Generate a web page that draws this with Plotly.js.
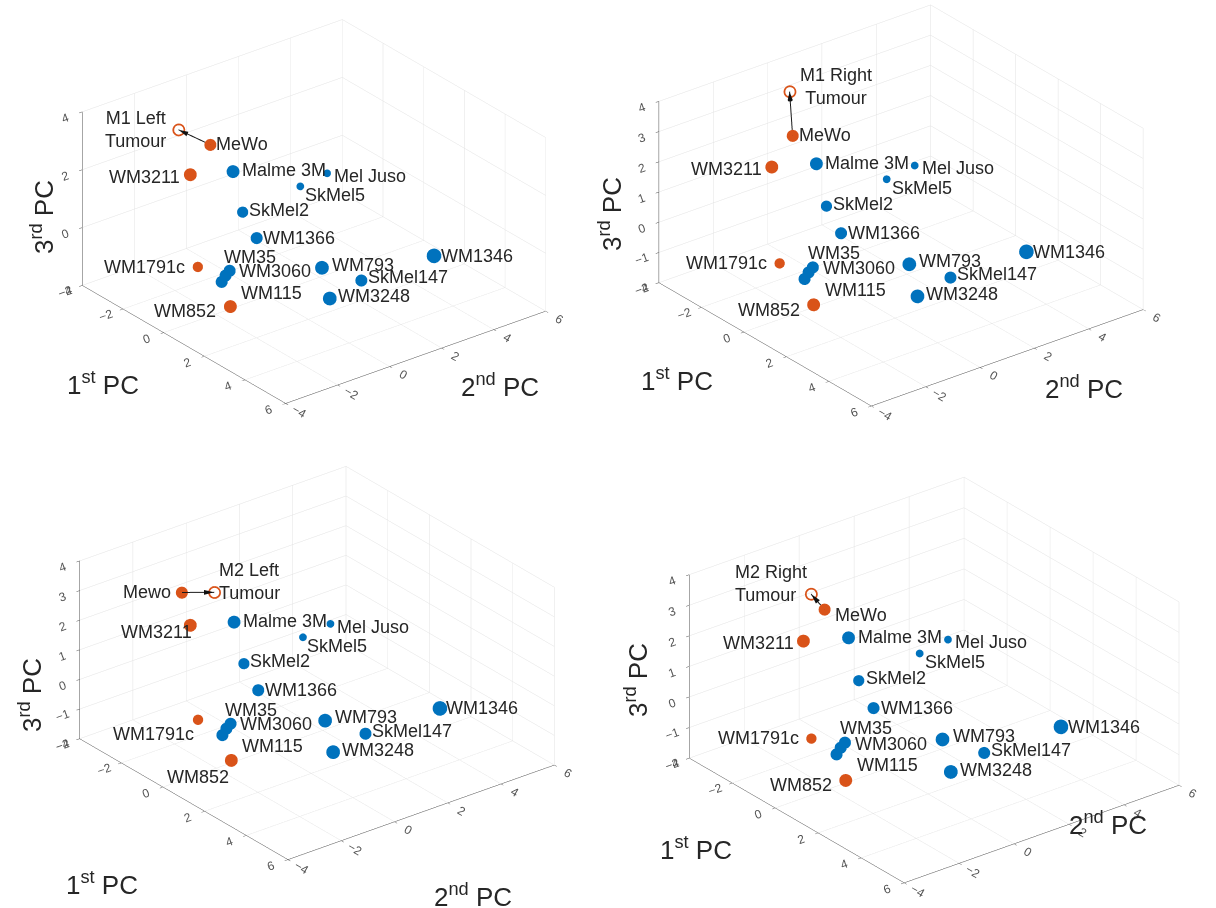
<!DOCTYPE html>
<html>
<head>
<meta charset="utf-8">
<script src="https://cdn.plot.ly/plotly-3.0.1.min.js"></script>
<style>
  html, body { margin: 0; padding: 0; background: #ffffff; }
  #chart { width: 1216px; height: 908px; }
</style>
</head>
<body>
<div id="chart"></div>
<script>
// Melanoma cell lines projected on the first three principal components
const cellLines = ['WM3211', 'Malme 3M', 'Mel Juso', 'SkMel5', 'SkMel2', 'WM1366', 'WM1346',
                   'WM1791c', 'WM35', 'WM3060', 'WM115', 'WM793', 'SkMel147', 'WM3248', 'WM852'];
const pc1 = [-1.75, -0.98, 0.81, 0.45, -0.34, 0.22, 3.76, -0.56, 0.08, 0.06, 0.06, 1.78, 2.67, 2.28, 0.50];
const pc2 = [-1.61, -0.57, 1.65, 0.90, -0.70, -0.60, 3.45, -2.25, -1.53, -1.67, -1.82, 0.69, 1.51, 0.60, -1.83];
const pc3 = [1.99, 2.08, 2.04, 1.68, 0.98, 0.28, -0.18, -0.51, -0.61, -0.74, -0.91, -0.52, -0.86, -1.35, -1.58];
const pointSize = [15, 15, 9, 9, 13, 14, 17, 12, 14, 14, 14, 16, 14, 16, 15];
const cellGroup = ['A', 'B', 'B', 'B', 'B', 'B', 'B', 'A', 'B', 'B', 'B', 'B', 'B', 'B', 'A'];

// MeWo reference line, one entry per panel
const mewoLabel = ['MeWo', 'MeWo', 'Mewo', 'MeWo'];
const mewoPC1 = [-1.71, -1.71, -2.27, -1.71];
const mewoPC2 = [-0.87, -0.87, -1.52, -0.87];
const mewoPC3 = [2.80, 2.80, 2.85, 2.80];
const mewoSize = 14;

// Tumour samples, one per panel
const tumourNames = ['M1 Left<br>Tumour', 'M1 Right<br>Tumour', 'M2 Left<br>Tumour', 'M2 Right<br>Tumour'];
const tumourPC1 = [-2.48, -2.81, -1.67, -2.12];
const tumourPC2 = [-1.49, -0.12, -0.77, -1.04];
const tumourPC3 = [3.20, 3.57, 2.86, 3.19];
const tumourSize = 14;

// Axis ticks
const pcRange = [-4, 6];
const pc3Range = [-2, 4];
const pc3Step = [2, 1, 1, 1];

const groupColor = { A: '#D95319', B: '#0072BD' };
const labelFont = { family: 'Liberation Sans, Arial, sans-serif', size: 18, color: '#262626' };
const titleFont = { family: 'Liberation Sans, Arial, sans-serif', size: 26, color: '#262626' };

// Label placement: [xanchor, xshift, yshift]
const basePlacement = {
  'MeWo': ['left', 4, 1], 'WM3211': ['right', -8, -2], 'Malme 3M': ['left', 7, 1],
  'Mel Juso': ['left', 5, -3], 'SkMel5': ['left', 3, -9], 'SkMel2': ['left', 5, 2],
  'WM1366': ['left', 5, 0], 'WM1346': ['left', 5, 0], 'WM1791c': ['right', -11, 0],
  'WM35': ['left', -7, 14], 'WM3060': ['left', 12, 4], 'WM115': ['left', 18, -11],
  'WM793': ['left', 8, 3], 'SkMel147': ['left', 5, 3], 'WM3248': ['left', 7, 2],
  'WM852': ['right', -12, -5]
};
const panelPlacement = [
  {},
  {},
  { 'Mewo': ['right', -8, 0], 'WM3211': ['right', 4, -7], 'WM1791c': ['right', -2, -14], 'WM852': ['right', 0, -17] },
  { 'MeWo': ['left', 8, -6] }
];
// [xanchor, xshift, yshift, align]
const tumourPlacement = [
  ['right', -10, 0, 'center'],
  ['left', 8, 5, 'center'],
  ['left', 3, 11, 'left'],
  ['right', -2, 11, 'left']
];

// Scene frames, box scale and look-at offsets
const domains = [
  { x: [0.0231, 0.4931], y: [0.5341, 1.0] },
  { x: [0.506, 0.976], y: [0.5341, 1.0] },
  { x: [0.0253, 0.4953], y: [0.033, 0.5066] },
  { x: [0.53, 1.0], y: [0.0088, 0.4934] }
];
const boxScale = [1.561, 1.631, 1.573, 1.586];
const lookAt = [
  { x: 0, y: 0, z: 0 },
  { x: 0, y: 0, z: -0.032 },
  { x: 0, y: 0, z: 0 },
  { x: -0.0116, y: -0.0148, z: 0 }
];
const zRatio = 0.59;
const eyeDir = [0.702, -0.549, 0.454];

// Axis titles, one set per panel
const titlePos = [
  { pc1: [103, 383], pc2: [500, 385], pc3: [42, 217] },
  { pc1: [677, 380], pc2: [1084, 387], pc3: [611, 214] },
  { pc1: [102, 883], pc2: [473, 895], pc3: [30, 695] },
  { pc1: [696, 848], pc2: [1108, 823], pc3: [636, 680] }
];

const W = 1216, H = 908;
const traces = [];
const layout = {
  width: W, height: H,
  margin: { l: 0, r: 0, t: 0, b: 0 },
  paper_bgcolor: '#ffffff',
  showlegend: false,
  hovermode: false,
  annotations: []
};

function axisSpec(range, step) {
  return {
    range: range, autorange: false, tick0: range[0], dtick: step, tickmode: 'linear',
    showgrid: true, gridcolor: '#e2e2e2', gridwidth: 1,
    showline: true, linecolor: '#4d4d4d', linewidth: 1,
    ticks: 'outside', ticklen: 4, tickcolor: '#4d4d4d',
    tickfont: { family: 'Liberation Sans, Arial, sans-serif', size: 12, color: '#555555' },
    zeroline: false, showbackground: false, showspikes: false,
    title: { text: '' }
  };
}

for (let p = 0; p < 4; p++) {
  const sid = p === 0 ? 'scene' : 'scene' + (p + 1);

  // arrow from MeWo to the tumour
  traces.push({
    type: 'scatter3d', mode: 'lines', scene: sid,
    x: [mewoPC1[p], tumourPC1[p]], y: [mewoPC2[p], tumourPC2[p]], z: [mewoPC3[p], tumourPC3[p]],
    line: { color: '#1a1a1a', width: 2 }, hoverinfo: 'skip'
  });
  const du = tumourPC1[p] - mewoPC1[p], dv = tumourPC2[p] - mewoPC2[p], dw = tumourPC3[p] - mewoPC3[p];
  const dn = Math.sqrt(du * du + dv * dv + dw * dw);
  traces.push({
    type: 'cone', scene: sid,
    x: [tumourPC1[p]], y: [tumourPC2[p]], z: [tumourPC3[p]],
    u: [du / dn], v: [dv / dn], w: [dw / dn],
    anchor: 'tip', sizemode: 'raw', sizeref: 0.3,
    colorscale: [[0, '#111111'], [1, '#111111']], showscale: false,
    lighting: { ambient: 1, diffuse: 0, specular: 0, roughness: 1, fresnel: 0 },
    hoverinfo: 'skip'
  });

  // cell lines
  traces.push({
    type: 'scatter3d', mode: 'markers', scene: sid,
    x: pc1, y: pc2, z: pc3,
    marker: { size: pointSize, color: cellGroup.map(g => groupColor[g]), opacity: 1, line: { width: 0 } },
    hoverinfo: 'skip'
  });
  traces.push({
    type: 'scatter3d', mode: 'markers', scene: sid,
    x: [mewoPC1[p]], y: [mewoPC2[p]], z: [mewoPC3[p]],
    marker: { size: [mewoSize], color: [groupColor.A], opacity: 1, line: { width: 0 } },
    hoverinfo: 'skip'
  });
  // tumour sample
  traces.push({
    type: 'scatter3d', mode: 'markers', scene: sid,
    x: [tumourPC1[p]], y: [tumourPC2[p]], z: [tumourPC3[p]],
    marker: { size: [tumourSize], symbol: 'circle-open', color: [groupColor.A], opacity: 1, line: { width: 1, color: groupColor.A } },
    hoverinfo: 'skip'
  });

  // point labels
  const ann = [];
  const place = Object.assign({}, basePlacement, panelPlacement[p]);
  const addLabel = (name, x, y, z) => {
    const pl = place[name];
    ann.push({ x: x, y: y, z: z, text: name, showarrow: false, xanchor: pl[0], yanchor: 'middle',
               xshift: pl[1], yshift: pl[2], font: labelFont });
  };
  addLabel(mewoLabel[p], mewoPC1[p], mewoPC2[p], mewoPC3[p]);
  cellLines.forEach((name, i) => addLabel(name, pc1[i], pc2[i], pc3[i]));
  const tp = tumourPlacement[p];
  ann.push({ x: tumourPC1[p], y: tumourPC2[p], z: tumourPC3[p], text: tumourNames[p], showarrow: false,
             xanchor: tp[0], yanchor: 'middle', xshift: tp[1], yshift: tp[2], align: tp[3], font: labelFont });

  const s = boxScale[p];
  layout[sid] = {
    domain: domains[p],
    xaxis: axisSpec(pcRange, 2),
    yaxis: axisSpec(pcRange, 2),
    zaxis: axisSpec(pc3Range, pc3Step[p]),
    aspectmode: 'manual',
    aspectratio: { x: s, y: s, z: s * zRatio },
    bgcolor: 'rgba(0,0,0,0)',
    camera: {
      eye: { x: lookAt[p].x + eyeDir[0] * 2, y: lookAt[p].y + eyeDir[1] * 2, z: lookAt[p].z + eyeDir[2] * 2 },
      up: { x: 0, y: 0, z: 1 },
      center: lookAt[p],
      projection: { type: 'orthographic' }
    },
    dragmode: false,
    annotations: ann
  };

  // axis titles
  const t = titlePos[p];
  layout.annotations.push(
    { xref: 'paper', yref: 'paper', x: t.pc1[0] / W, y: 1 - t.pc1[1] / H, text: '1<sup>st</sup> PC',
      showarrow: false, xanchor: 'center', yanchor: 'middle', font: titleFont },
    { xref: 'paper', yref: 'paper', x: t.pc2[0] / W, y: 1 - t.pc2[1] / H, text: '2<sup>nd</sup> PC',
      showarrow: false, xanchor: 'center', yanchor: 'middle', font: titleFont },
    { xref: 'paper', yref: 'paper', x: t.pc3[0] / W, y: 1 - t.pc3[1] / H, text: '3<sup>rd</sup> PC',
      showarrow: false, xanchor: 'center', yanchor: 'middle', textangle: -90, font: titleFont }
  );
}

Plotly.newPlot('chart', traces, layout, { displayModeBar: false });
</script>
</body>
</html>
